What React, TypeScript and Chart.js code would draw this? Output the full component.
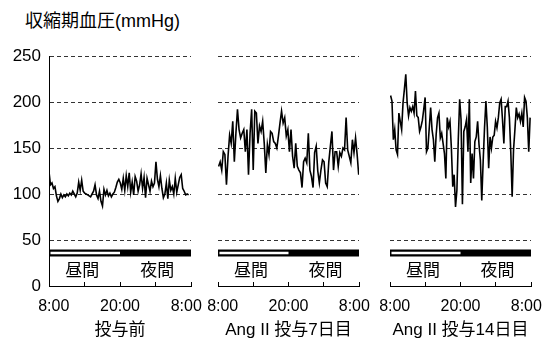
import React, { useEffect, useRef } from 'react';
import { Chart, registerables } from 'chart.js';

Chart.register(...registerables);

const FONT = "'Liberation Sans', Arial, 'Noto Sans CJK JP', sans-serif";

// ---- text & ticks ----
const yTitle = '収縮期血圧(mmHg)';
const panelCaptions = ['投与前', 'Ang II 投与7日目', 'Ang II 投与14日目'];
const xTickHours = [0, 6, 12, 18, 24];
const xLabelHours = [0.8, 12, 23.2];
const xTickLabels = ['8:00', '20:00', '8:00'];
const yTickValues = [0, 50, 100, 150, 200, 250];
const periodLabels = ['昼間', '夜間'];
const periodLabelHours = [5.6, 18.3];
const periodLabelLevel = 16;
const dayHours = [0.25, 12];
const nightHours = [0, 24];
const periodBarLevel = 36;

// ---- series (systolic BP, mmHg) ----
const sbpBefore = [
  124, 110, 112, 106, 108, 98, 92, 95, 100, 96, 99, 97, 100, 98, 101, 99,
  103, 100, 97, 101, 113, 104, 115, 103, 101, 100, 99, 98, 97, 100, 103, 110,
  99, 95, 103, 92, 87, 105, 99, 104, 98, 101, 97, 100, 102, 107, 113, 116,
  112, 105, 117, 104, 120, 108, 123, 102, 113, 99, 119, 114, 103, 110, 122, 106,
  118, 96, 117, 110, 103, 114, 108, 112, 135, 116, 108, 120, 106, 96, 100, 112,
  95, 115, 104, 108, 100, 117, 102, 110, 118, 121, 106, 103, 99, 100, 99,
];
const sbpDay7 = [
  130, 135, 126, 146, 143, 110, 141, 164, 155, 179, 135, 166, 192, 170, 161, 166,
  170, 146, 170, 121, 166, 192, 126, 190, 188, 155, 174, 168, 179, 155, 123, 154,
  143, 168, 166, 157, 155, 150, 163, 177, 190, 177, 183, 163, 170, 146, 170, 141,
  128, 155, 130, 126, 123, 107, 135, 139, 134, 166, 126, 119, 107, 145, 152, 125,
  112, 126, 137, 135, 112, 108, 135, 152, 168, 126, 146, 146, 130, 145, 141, 150,
  148, 183, 148, 141, 134, 159, 145, 161, 143, 121,
];
const sbpDay14 = [
  207, 201, 159, 170, 148, 143, 188, 179, 170, 199, 214, 230, 199, 185, 194, 190,
  195, 188, 212, 185, 183, 168, 173, 180, 192, 205, 146, 150, 172, 194, 170, 159,
  135, 165, 183, 188, 161, 166, 155, 144, 117, 183, 173, 179, 150, 108, 121, 86,
  104, 159, 203, 181, 89, 168, 173, 181, 146, 203, 112, 144, 117, 157, 162, 179,
  154, 137, 93, 135, 172, 201, 173, 128, 162, 150, 162, 164, 179, 172, 183, 199,
  203, 181, 155, 195, 195, 201, 183, 146, 97, 148, 170, 194, 183, 187, 179, 188,
  173, 205, 201, 183, 146, 183,
];
const seriesList = [sbpBefore, sbpDay7, sbpDay14];
const seriesFirstHour = [0, 0.1, 0.1];
const seriesLastHour = [23.6, 23.95, 23.85];

// ---- layout (pixels) ----
const W = 544;
const H = 342;
const plotTop = 56;
const xAxisHeight = 56;
const yAxisWidth = 49;
const panelLeft = [49, 218, 390];
const panelRight = [191, 359, 531];

const periodPlugin = {
  id: 'periodText',
  afterDatasetsDraw(chart: any) {
    const { ctx, scales } = chart;
    const x = scales.x;
    const y = scales.y;
    ctx.save();
    ctx.font = `17px ${FONT}`;
    ctx.fillStyle = '#000';
    ctx.textAlign = 'center';
    ctx.textBaseline = 'middle';
    periodLabels.forEach((t, i) => {
      ctx.fillText(t, x.getPixelForValue(periodLabelHours[i]), y.getPixelForValue(periodLabelLevel));
    });
    ctx.restore();
  },
};

function Panel({ index }: { index: number }) {
  const ref = useRef<HTMLCanvasElement | null>(null);
  useEffect(() => {
    if (!ref.current) return;
    const vals = seriesList[index];
    const h0 = seriesFirstHour[index];
    const h1 = seriesLastHour[index];
    const points = vals.map((v, i) => ({ x: h0 + (i * (h1 - h0)) / (vals.length - 1), y: v }));
    const showY = index === 0;
    const padLeft = showY ? panelLeft[index] - yAxisWidth : panelLeft[index];
    const chart = new Chart(ref.current, {
      type: 'line',
      data: {
        datasets: [
          {
            data: dayHours.map((h) => ({ x: h, y: periodBarLevel })),
            borderColor: '#fff',
            borderWidth: 2.5,
            pointRadius: 0,
            order: 1,
          },
          {
            data: nightHours.map((h) => ({ x: h, y: periodBarLevel })),
            borderColor: '#000',
            borderWidth: 7,
            pointRadius: 0,
            order: 2,
          },
          {
            data: points,
            borderColor: '#000',
            borderWidth: 1.6,
            pointRadius: 0,
            tension: 0,
            order: 3,
          },
        ],
      },
      options: {
        animation: false,
        responsive: false,
        events: [],
        layout: {
          padding: { left: padLeft, right: W - panelRight[index], top: plotTop, bottom: 0 },
        },
        plugins: {
          legend: { display: false },
          tooltip: { enabled: false },
          title: { display: false },
        },
        scales: {
          x: {
            type: 'linear',
            position: 'bottom',
            weight: 0,
            min: 0,
            max: 24,
            afterBuildTicks: (s: any) => {
              s.ticks = xTickHours.map((v) => ({ value: v }));
            },
            afterFit: (s: any) => {
              s.height = 0;
              s.paddingLeft = 0;
              s.paddingRight = 0;
            },
            ticks: { display: false },
            grid: {
              drawOnChartArea: false,
              drawTicks: true,
              tickLength: -4,
              color: '#000',
              lineWidth: 1,
            },
            border: { display: true, color: '#000', width: 1 },
          },
          xLabels: {
            type: 'linear',
            position: 'bottom',
            axis: 'x',
            weight: 1,
            min: 0,
            max: 24,
            afterBuildTicks: (s: any) => {
              s.ticks = xLabelHours.map((v) => ({ value: v }));
            },
            afterFit: (s: any) => {
              s.height = xAxisHeight;
              s.paddingLeft = 0;
              s.paddingRight = 0;
            },
            ticks: {
              autoSkip: false,
              maxRotation: 0,
              padding: 11,
              color: '#000',
              font: { size: 16, family: FONT },
              callback: (v: any) => {
                const i = xLabelHours.indexOf(Number(v));
                return i >= 0 ? xTickLabels[i] : '';
              },
            },
            grid: { display: false, drawTicks: false },
            border: { display: false },
            title: {
              display: true,
              text: panelCaptions[index],
              color: '#000',
              font: { size: 17, family: FONT },
              padding: { top: 0, bottom: 1 },
            },
          },
          y: {
            type: 'linear',
            min: 0,
            max: 250,
            display: true,
            afterBuildTicks: (s: any) => {
              s.ticks = yTickValues.map((v) => ({ value: v }));
            },
            afterFit: (s: any) => {
              s.width = showY ? yAxisWidth : 0;
              s.paddingTop = 0;
              s.paddingBottom = 0;
            },
            ticks: {
              display: showY,
              padding: 8,
              color: '#000',
              font: { size: 17, family: FONT },
            },
            grid: {
              drawTicks: false,
              color: (c: any) => (c.tick && c.tick.value === 0 ? 'rgba(0,0,0,0)' : '#333'),
              lineWidth: 1,
            },
            border: { display: showY, color: '#000', width: 1, dash: [4, 3] },
          },
        },
      },
      plugins: [periodPlugin],
    });
    return () => chart.destroy();
  }, [index]);
  return (
    <canvas
      ref={ref}
      width={W}
      height={H}
      style={{ position: 'absolute', left: 0, top: 0, width: W, height: H }}
    />
  );
}

export default function App() {
  return (
    <div
      style={{
        position: 'fixed',
        left: 0,
        top: 0,
        width: W,
        height: H,
        background: '#fff',
        overflow: 'hidden',
      }}
    >
      <div
        style={{
          position: 'absolute',
          left: 25,
          top: 10,
          fontFamily: FONT,
          fontSize: 18,
          lineHeight: '22px',
          color: '#000',
          whiteSpace: 'nowrap',
        }}
      >
        {yTitle}
      </div>
      <Panel index={0} />
      <Panel index={1} />
      <Panel index={2} />
    </div>
  );
}
